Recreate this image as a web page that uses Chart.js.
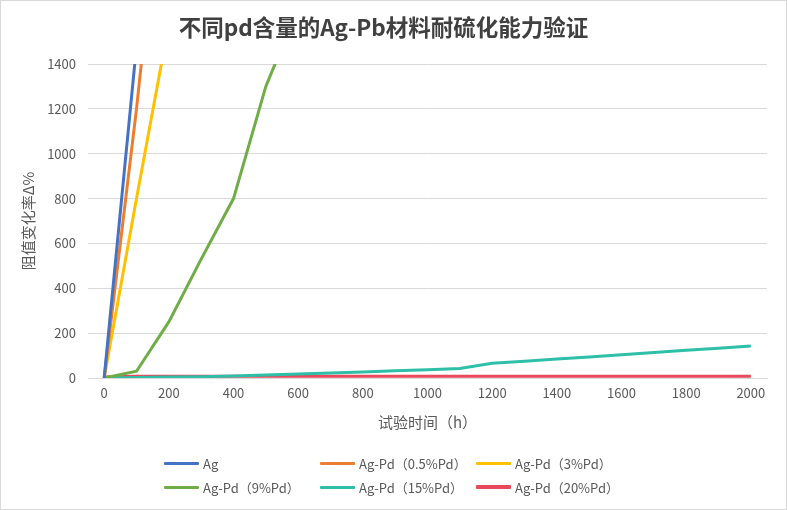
<!DOCTYPE html>
<html lang="zh">
<head>
    <meta charset="UTF-8">
    <title>不同pd含量的Ag-Pb材料耐硫化能力验证</title>
    <style>
        body {
            margin: 0;
            background: #fff;
            font-family: "Noto Sans CJK SC", "Noto Sans", sans-serif;
        }
        .wrap {
            position: relative;
            width: 787px;
            height: 510px;
        }
        .frame {
            position: absolute;
            left: 0; top: 0;
            width: 785px; height: 508px;
            border: 1px solid #d9d9d9;
            pointer-events: none;
        }
        .legend {
            position: absolute;
            left: 164px;
            top: 453px;
            display: grid;
            grid-template-columns: 156px 156px 160px;
            row-gap: 4px;
            font-size: 13px;
            color: #595959;
        }
        .legend div {
            display: flex;
            align-items: center;
            height: 20px;
            white-space: nowrap;
        }
        .legend span.key {
            display: inline-block;
            width: 35px;
            height: 3px;
            margin-right: 4px;
            border-radius: 1px;
        }
    </style>
</head>
<body>
    <div class="wrap">
        <canvas id="myChart" width="787" height="510"></canvas>
        <div class="legend" id="legend"></div>
        <div class="frame"></div>
    </div>

    <script src="https://cdn.jsdelivr.net/npm/chart.js@4.4.0/dist/chart.umd.min.js"></script>
    <script>
        // 试验时间 (h)
        const hours = ['0', '100', '200', '300', '400', '500', '600', '700', '800', '900', '1000',
                       '1100', '1200', '1300', '1400', '1500', '1600', '1700', '1800', '1900', '2000'];

        // 阻值变化率 (%)
        const ag     = [0, 1480, 2900, null, null, null, null, null, null, null, null,
                        null, null, null, null, null, null, null, null, null, null];
        const pd05   = [0, 1200, 2550, null, null, null, null, null, null, null, null,
                        null, null, null, null, null, null, null, null, null, null];
        const pd3    = [0, 800, 1580, null, null, null, null, null, null, null, null,
                        null, null, null, null, null, null, null, null, null, null];
        const pd9    = [0, 30, 250, 530, 800, 1300, 1650, null, null, null, null,
                        null, null, null, null, null, null, null, null, null, null];
        const pd15   = [0, 2, 4, 6, 9, 13, 18, 22, 27, 32, 37,
                        42, 66, 75, 85, 94, 104, 114, 124, 133, 143];
        const pd20   = [5, 8, 8, 8, 8, 8, 8, 8, 8, 8, 8,
                        8, 8, 8, 8, 8, 8, 8, 8, 8, 8];

        const seriesNames  = ['Ag', 'Ag-Pd（0.5%Pd）', 'Ag-Pd（3%Pd）', 'Ag-Pd（9%Pd）', 'Ag-Pd（15%Pd）', 'Ag-Pd（20%Pd）'];
        const seriesColors = ['#4472C4', '#ED7D31', '#FFC000', '#70AD47', '#2EBFA8', '#E8485A'];
        const seriesData   = [ag, pd05, pd3, pd9, pd15, pd20];

        const yTicks = [0, 200, 400, 600, 800, 1000, 1200, 1400];

        const textColor = '#595959';
        const gridColor = '#d9d9d9';
        const fontFamily = '"Noto Sans CJK SC", "Noto Sans", sans-serif';

        const datasets = seriesNames.map(function(name, i) {
            return {
                label: name,
                data: seriesData[i],
                borderColor: seriesColors[i],
                backgroundColor: seriesColors[i],
                borderWidth: 3,
                pointRadius: 0,
                tension: 0,
                spanGaps: false
            };
        });

        // 图例 (HTML)
        const legendDiv = document.getElementById('legend');
        seriesNames.forEach(function(name, i) {
            const item = document.createElement('div');
            const key = document.createElement('span');
            key.className = 'key';
            key.style.background = seriesColors[i];
            if (i === 5) key.style.height = '4px';
            item.appendChild(key);
            item.appendChild(document.createTextNode(name));
            legendDiv.appendChild(item);
        });

        const ctx = document.getElementById('myChart');
        new Chart(ctx, {
            type: 'line',
            data: {
                labels: hours,
                datasets: datasets
            },
            options: {
                responsive: false,
                animation: false,
                layout: {
                    padding: { left: 0, right: 20, top: 0, bottom: 75 }
                },
                plugins: {
                    legend: { display: false },
                    tooltip: { enabled: false },
                    title: {
                        display: true,
                        text: '不同pd含量的Ag-Pb材料耐硫化能力验证',
                        color: '#404040',
                        font: { family: fontFamily, size: 22.5, weight: 'bold', lineHeight: 1.2 },
                        padding: { top: 14, bottom: 23 }
                    }
                },
                scales: {
                    x: {
                        type: 'category',
                        offset: true,
                        grid: { display: false, drawTicks: false },
                        border: { display: true, color: gridColor, width: 1 },
                        ticks: {
                            autoSkip: false,
                            maxRotation: 0,
                            padding: 7,
                            color: textColor,
                            font: { family: fontFamily, size: 13 },
                            callback: function(val, i) {
                                return i % 2 === 0 ? this.getLabelForValue(val) : '';
                            }
                        },
                        title: {
                            display: true,
                            text: '试验时间（h）',
                            color: textColor,
                            font: { family: fontFamily, size: 15 },
                            padding: { top: 0, bottom: 4 }
                        },
                        afterFit: function(scale) { scale.height = 57; }
                    },
                    y: {
                        min: 0,
                        max: 1400,
                        grid: { color: gridColor, drawTicks: false },
                        border: { display: false },
                        afterBuildTicks: function(scale) {
                            scale.ticks = yTicks.map(function(v) { return { value: v }; });
                        },
                        ticks: {
                            padding: 12,
                            color: textColor,
                            font: { family: fontFamily, size: 13 },
                            callback: function(val) { return String(val); }
                        },
                        title: {
                            display: true,
                            text: '阻值变化率Δ%',
                            color: textColor,
                            font: { family: fontFamily, size: 15 },
                            padding: { top: 19, bottom: 0 }
                        },
                        afterFit: function(scale) { scale.width = 88; }
                    }
                }
            }
        });
    </script>
</body>
</html>
